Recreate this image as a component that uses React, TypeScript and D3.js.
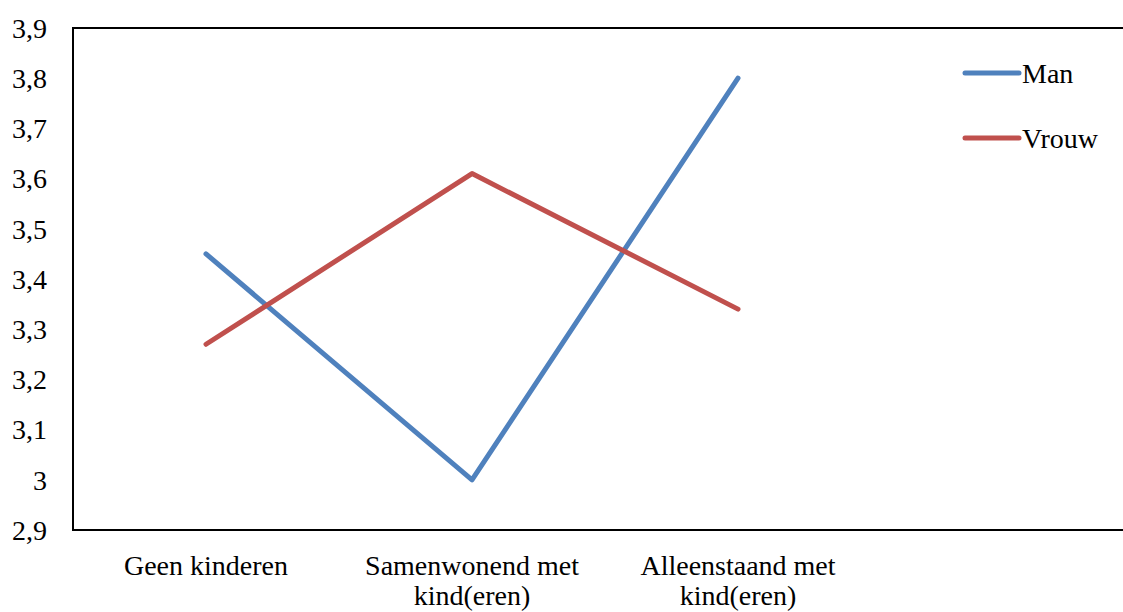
import React from "react";
import * as d3 from "d3";

const categories: string[][] = [["Geen kinderen"], ["Samenwonend met", "kind(eren)"], ["Alleenstaand met", "kind(eren)"], [""]];
const man: number[] = [3.45, 3.0, 3.8];
const vrouw: number[] = [3.27, 3.61, 3.34];
const yTicks: number[] = [2.9, 3.0, 3.1, 3.2, 3.3, 3.4, 3.5, 3.6, 3.7, 3.8, 3.9];
const seriesNames = ["Man", "Vrouw"];
const colors = ["#4F81BD", "#C0504D"];

export default function App() {
  const W = 1123, H = 612;
  const left = 73, top = 28, bottom = 530, right = 1137;
  const x = d3.scaleBand<number>().domain(d3.range(categories.length)).range([left, right]);
  const y = d3.scaleLinear().domain([2.9, 3.9]).range([bottom, top]);
  const line = d3.line<number>().x((_, i) => (x(i) as number) + x.bandwidth() / 2).y((d) => y(d));
  const fmt = (v: number) => (Math.abs(v - 3) < 1e-9 ? "3" : v.toFixed(1).replace(".", ","));
  const ts: React.CSSProperties = { fontFamily: "Times New Roman", fontSize: 28 };
  const series = [man, vrouw];
  return (
    <div style={{ fontFamily: "Times New Roman" }}>
      <svg width={W} height={H} fontFamily="Times New Roman" style={{ position: "absolute", left: 0, top: 0, background: "#fff" }}>
        <rect x={0} y={0} width={W} height={H} fill="#fff" />
        <path d={`M${right},${top}H${left}V${bottom}H${right}`} fill="none" stroke="#000" strokeWidth={2} />
        {yTicks.map((t) => (
          <text key={t} x={47} y={y(t)} dy="0.35em" textAnchor="end" style={ts} fill="#000">
            {fmt(t)}
          </text>
        ))}
        {categories.map((lines, i) => (
          <text key={i} x={(x(i) as number) + x.bandwidth() / 2} y={575} textAnchor="middle" style={ts} fill="#000">
            {lines.map((l, j) => (
              <tspan key={j} x={(x(i) as number) + x.bandwidth() / 2} dy={j === 0 ? 0 : 30}>
                {l}
              </tspan>
            ))}
          </text>
        ))}
        {series.map((s, k) => (
          <path key={k} d={line(s) as string} fill="none" stroke={colors[k]} strokeWidth={5} strokeLinecap="round" strokeLinejoin="round" />
        ))}
        {seriesNames.map((n, k) => (
          <g key={n}>
            <line x1={965} x2={1019} y1={73 + k * 65} y2={73 + k * 65} stroke={colors[k]} strokeWidth={5} strokeLinecap="round" />
            <text x={1022} y={73 + k * 65} dy="0.35em" style={ts} fill="#000">
              {n}
            </text>
          </g>
        ))}
      </svg>
    </div>
  );
}
